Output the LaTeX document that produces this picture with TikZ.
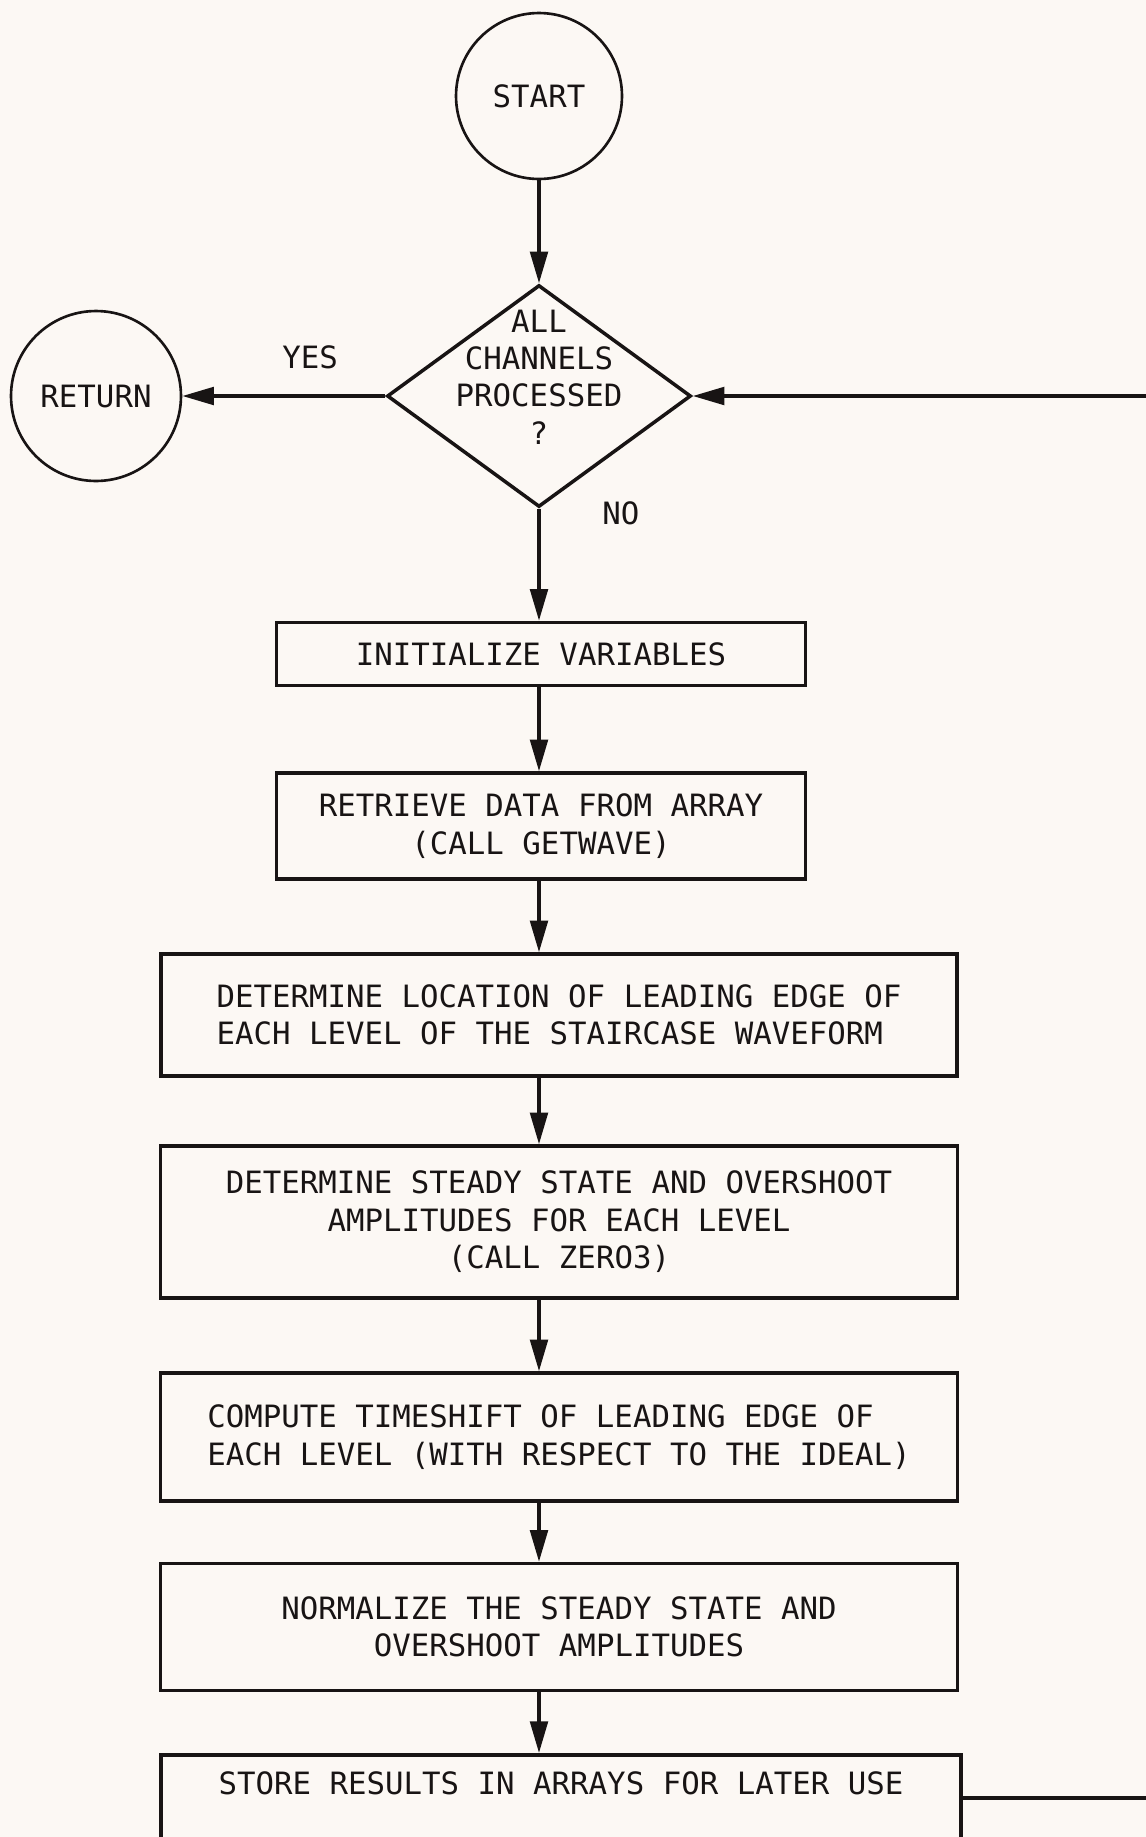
\documentclass[tikz,border=0pt]{standalone}
\usepackage{fontspec}
\newfontfamily\plotfont{DejaVu Sans Mono}
\usetikzlibrary{shapes.geometric,arrows.meta,calc}
\definecolor{bgc}{RGB}{252,248,244}
\definecolor{ink}{RGB}{24,20,20}
\begin{document}
\begin{tikzpicture}[x=0.02cm,y=0.02cm,
  font=\plotfont\fontsize{17.5pt}{21.3pt}\selectfont,
  box/.style={draw=ink, line width=2pt, rectangle, inner sep=0pt, align=center, text=ink},
  termc/.style={draw=ink, line width=1.5pt, circle, inner sep=0pt, minimum size=3.32cm, text=ink},
  dia/.style={draw=ink, line width=2pt, diamond, inner sep=0pt, minimum width=6.08cm, minimum height=4.44cm},
  arr/.style={draw=ink, line width=2pt, -{Triangle[length=18pt,width=10pt]}},
  lbl/.style={text=ink, inner sep=0pt}]
\useasboundingbox (0,0) rectangle (1146,-1837);
\fill[bgc] (0,0) rectangle (1146,-1837);
\clip (0,0) rectangle (1146,-1837);

\node[termc] (start) at (539,-96) {START};
\node[dia, label={[align=center, text=ink, yshift=0.38cm]center:{ALL\\CHANNELS\\PROCESSED\\?}}] (dec) at (539,-396) {};
\node[termc, minimum size=3.4cm] (ret) at (96,-396) {RETURN};

\node[box, minimum width=10.58cm, minimum height=1.26cm] (b1) at (541,-654) {INITIALIZE VARIABLES};
\node[box, minimum width=10.58cm, minimum height=2.12cm] (b2) at (541,-826) {RETRIEVE DATA FROM ARRAY\\(CALL GETWAVE)};
\node[box, align=left, minimum width=15.92cm, minimum height=2.44cm] (b3) at (559,-1015) {DETERMINE LOCATION OF LEADING EDGE OF\\EACH LEVEL OF THE STAIRCASE WAVEFORM};
\node[box, minimum width=15.94cm, minimum height=3.04cm] (b4) at (559,-1222) {DETERMINE STEADY STATE AND OVERSHOOT\\AMPLITUDES FOR EACH LEVEL\\(CALL ZERO3)};
\node[box, align=left, minimum width=15.94cm, minimum height=2.56cm] (b5) at (559,-1437) {COMPUTE TIMESHIFT OF LEADING EDGE OF\\EACH LEVEL (WITH RESPECT TO THE IDEAL)};
\node[box, minimum width=15.94cm, minimum height=2.54cm] (b6) at (559,-1627) {NORMALIZE THE STEADY STATE AND\\OVERSHOOT AMPLITUDES};
\node[box, anchor=north, minimum width=16cm, minimum height=2.12cm] (b7) at (561,-1753) {STORE RESULTS IN ARRAYS FOR LATER USE\\\strut};

\draw[arr] (start.south) -- (dec.north);
\draw[arr] (dec.west) -- (ret.east) node[lbl, pos=0.37, yshift=0.78cm] {YES};
\draw[arr] (dec.south) -- (b1.north -| dec.south) node[lbl, pos=0.04, xshift=1.64cm] {NO};
\draw[arr] (b1.south -| dec.south) -- (b2.north -| dec.south);
\draw[arr] (b2.south -| dec.south) -- (b3.north -| dec.south);
\draw[arr] (b3.south -| dec.south) -- (b4.north -| dec.south);
\draw[arr] (b4.south -| dec.south) -- (b5.north -| dec.south);
\draw[arr] (b5.south -| dec.south) -- (b6.north -| dec.south);
\draw[arr] (b6.south -| dec.south) -- (b7.north -| dec.south);
\coordinate (loopbot) at (1250,-1798);
\coordinate (looptop) at (1250,-396);
\draw[arr] (b7.east |- loopbot) -- (loopbot) -- (looptop) -- (dec.east);
\end{tikzpicture}
\end{document}
